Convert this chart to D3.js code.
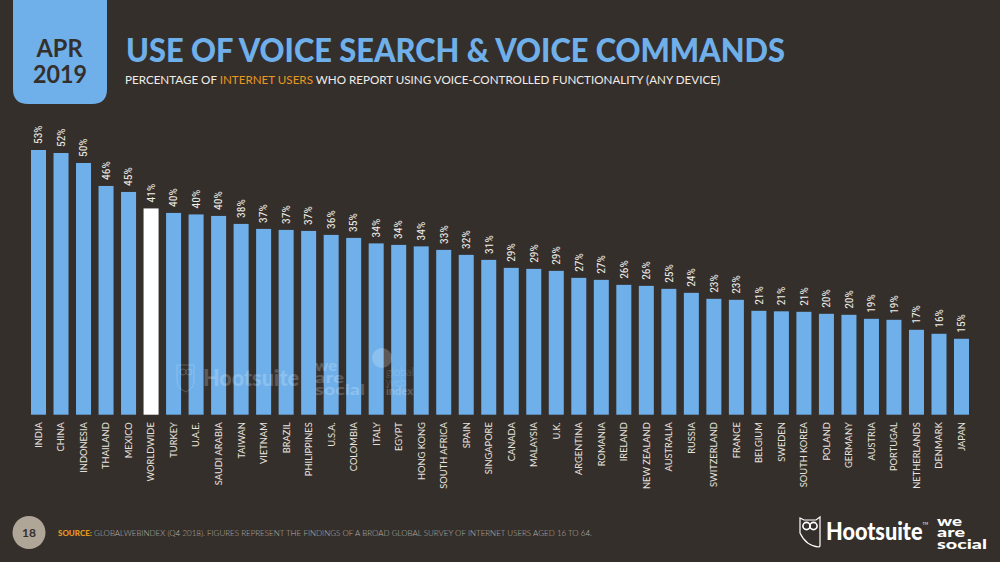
<!DOCTYPE html>
<html><head><meta charset="utf-8">
<script src="https://cdn.jsdelivr.net/npm/d3@7/dist/d3.min.js"></script>
<style>html,body{margin:0;padding:0;background:#352f2c;overflow:hidden}svg{display:block}</style>
</head><body><svg id="c" width="1000" height="562"></svg>
<script>
const categories=["INDIA","CHINA","INDONESIA","THAILAND","MEXICO","WORLDWIDE","TURKEY","U.A.E.","SAUDI ARABIA","TAIWAN","VIETNAM","BRAZIL","PHILIPPINES","U.S.A.","COLOMBIA","ITALY","EGYPT","HONG KONG","SOUTH AFRICA","SPAIN","SINGAPORE","CANADA","MALAYSIA","U.K.","ARGENTINA","ROMANIA","IRELAND","NEW ZEALAND","AUSTRALIA","RUSSIA","SWITZERLAND","FRANCE","BELGIUM","SWEDEN","SOUTH KOREA","POLAND","GERMANY","AUSTRIA","PORTUGAL","NETHERLANDS","DENMARK","JAPAN"];
const values=[53.0,52.4,50.4,45.8,44.6,41.3,40.4,40.1,39.8,38.2,37.2,37.0,36.8,36.0,35.4,34.3,34.0,33.7,33.0,32.0,31.0,29.4,29.2,28.8,27.4,27.0,26.0,25.8,25.2,24.4,23.2,23.0,20.8,20.7,20.6,20.2,20.0,19.2,19.0,17.0,16.2,15.2];
const highlighted=["WORLDWIDE"];
const BG="#352f2c",BLUE="#6fb0ea",ORANGE="#e8981f",SANS="Lato, 'Open Sans', sans-serif";
const svg=d3.select("#c");
svg.append("rect").attr("width",1000).attr("height",562).attr("fill",BG);

const x=d3.scaleBand().domain(categories).range([31,969]).paddingInner(1/3).paddingOuter(0);
const y=d3.scaleLinear().domain([0,53]).range([414.7,150]);
const rows=categories.map((c,i)=>({c,v:values[i]}));

svg.append("g").selectAll("rect").data(rows).join("rect")
 .attr("x",d=>x(d.c)).attr("y",d=>y(d.v)).attr("width",x.bandwidth()).attr("height",d=>y(0)-y(d.v))
 .attr("fill",d=>highlighted.includes(d.c)?"#ffffff":BLUE);

svg.append("g").selectAll("text").data(rows).join("text")
 .attr("transform",d=>`translate(${x(d.c)+x.bandwidth()/2+3.8},${y(d.v)-6}) rotate(-90)`)
 .attr("font-family","'Liberation Sans Narrow','Roboto Condensed',Roboto,sans-serif")
 .attr("font-size",11.5).attr("fill","#f2efe9").text(d=>d3.format(".0f")(d.v)+"%");

const ax=svg.append("g").attr("transform","translate(0,414.7)").call(d3.axisBottom(x).tickSize(0).tickPadding(0));
ax.select(".domain").remove();
ax.selectAll("text").attr("x",0).attr("y",0).attr("dy",0)
 .attr("transform","translate(3.4,7.5) rotate(-90)").attr("text-anchor","end")
 .attr("font-family",SANS).attr("font-size",9.3).attr("font-weight",400).attr("fill","#e8e4de");

// watermark
const wm=svg.append("g").attr("fill","#ffffff").attr("opacity",0.2).attr("font-family","Lato,sans-serif").attr("font-weight",900);
wm.append("text").attr("x",203).attr("y",386).attr("font-size",23).attr("textLength",96).attr("lengthAdjust","spacingAndGlyphs").text("Hootsuite");
wm.append("path").attr("d","M177 365h17v16q0 7-8 11q-9-4-9-11z").attr("fill","none").attr("stroke","#fff").attr("stroke-width",1);
wm.append("circle").attr("cx",183).attr("cy",372).attr("r",3).attr("fill","none").attr("stroke","#fff");
wm.append("circle").attr("cx",189).attr("cy",372).attr("r",3).attr("fill","none").attr("stroke","#fff");
const wmWe=wm.append("text").attr("font-size",15);
[["we",371,22],["are",383,29],["social",395,50]].forEach(([t,yy,w])=>wmWe.append("tspan").attr("x",315).attr("y",yy).attr("textLength",w).attr("lengthAdjust","spacingAndGlyphs").text(t));
wm.append("circle").attr("cx",382).attr("cy",358).attr("r",10);
const wmGwi=wm.append("text").attr("font-size",11);
[["global",376,300],["web",386,300],["index",395,900]].forEach(([t,yy,fw])=>wmGwi.append("tspan").attr("x",386).attr("y",yy).attr("font-weight",fw).text(t));

// badge
svg.append("path").attr("d","M13 0H107V89Q107 104 92 104H28Q13 104 13 89Z").attr("fill",BLUE);
const b=svg.append("g").attr("fill","#352f2c").attr("font-family",SANS).attr("font-weight",700).attr("font-size",24.5).attr("text-anchor","middle");
b.append("text").attr("x",59.5).attr("y",56.5).attr("textLength",46).attr("lengthAdjust","spacingAndGlyphs").text("APR");
b.append("text").attr("x",60).attr("y",83).attr("textLength",54).attr("lengthAdjust","spacingAndGlyphs").text("2019");

// title
svg.append("text").attr("x",126).attr("y",62).attr("font-family",SANS).attr("font-weight",900).attr("font-size",31.5)
 .attr("fill",BLUE).attr("textLength",659).attr("lengthAdjust","spacingAndGlyphs").text("USE OF VOICE SEARCH & VOICE COMMANDS");
const sub=svg.append("text").attr("x",125).attr("y",83.5).attr("font-family",SANS).attr("font-size",12).attr("fill","#f0ede8")
 .attr("textLength",595).attr("lengthAdjust","spacingAndGlyphs");
sub.append("tspan").text("PERCENTAGE OF ");
sub.append("tspan").attr("fill",ORANGE).text("INTERNET USERS");
sub.append("tspan").text(" WHO REPORT USING VOICE-CONTROLLED FUNCTIONALITY (ANY DEVICE)");

// footer
svg.append("circle").attr("cx",29).attr("cy",532.5).attr("r",16.5).attr("fill","#b0a698");
svg.append("text").attr("x",29).attr("y",537).attr("text-anchor","middle").attr("font-family",SANS).attr("font-weight",700).attr("font-size",12).attr("fill","#352f2c").text("18");
const src=svg.append("text").attr("x",58).attr("y",536).attr("font-family",SANS).attr("font-size",8).attr("font-weight",300).attr("fill","#b5afa7")
 .attr("textLength",534).attr("lengthAdjust","spacingAndGlyphs");
src.append("tspan").attr("fill",ORANGE).attr("font-weight",900).text("SOURCE:");
src.append("tspan").text(" GLOBALWEBINDEX (Q4 2018). FIGURES REPRESENT THE FINDINGS OF A BROAD GLOBAL SURVEY OF INTERNET USERS AGED 16 TO 64.");

// logos
const lg=svg.append("g");
lg.append("path").attr("d","M800 518L804 520H816L820 517V546L819 547Q806 546 800 533Z").attr("fill","none").attr("stroke","#fff").attr("stroke-width",1.2);
lg.append("circle").attr("cx",806.5).attr("cy",526).attr("r",3.6).attr("fill","none").attr("stroke","#fff").attr("stroke-width",1.6);
lg.append("circle").attr("cx",813.5).attr("cy",526).attr("r",3.6).attr("fill","none").attr("stroke","#fff").attr("stroke-width",1.6);
const hs=lg.append("text").attr("x",826).attr("y",539.5).attr("font-family",SANS).attr("font-weight",900).attr("font-size",24).attr("fill","#fff").attr("textLength",102).attr("lengthAdjust","spacingAndGlyphs");
hs.append("tspan").text("Hootsuite");
hs.append("tspan").attr("font-size",4).attr("font-weight",400).attr("dy",-15).text("TM");
const ws=lg.append("text").attr("font-family",SANS).attr("font-weight",900).attr("font-size",13.5).attr("fill","#fff");
[["we",525.5,25],["are",537,28],["social",548.5,50]].forEach(([t,yy,w])=>ws.append("tspan").attr("x",937).attr("y",yy).attr("textLength",w).attr("lengthAdjust","spacingAndGlyphs").text(t));
</script></body></html>
